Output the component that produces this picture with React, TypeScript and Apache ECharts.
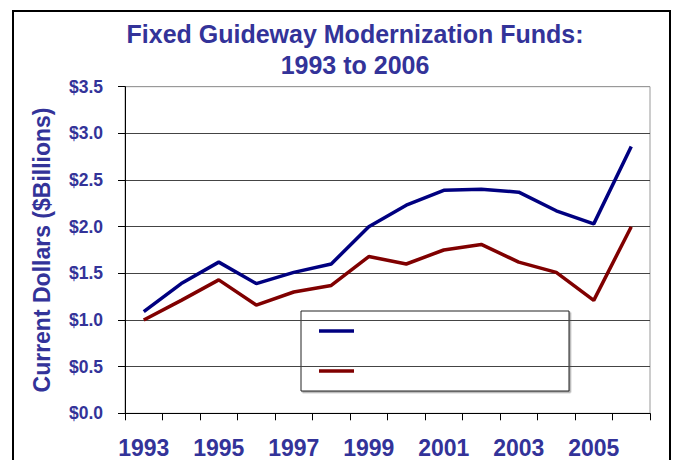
import React, { useEffect, useRef } from "react";
import * as echarts from "echarts";

const years = ["1993","1994","1995","1996","1997","1998","1999","2000","2001","2002","2003","2004","2005","2006"];
const seriesA = [1.09, 1.39, 1.62, 1.39, 1.51, 1.60, 2.00, 2.23, 2.39, 2.40, 2.37, 2.17, 2.03, 2.86];
const seriesB = [1.00, 1.21, 1.43, 1.16, 1.30, 1.37, 1.68, 1.60, 1.75, 1.81, 1.62, 1.51, 1.21, 2.00];
const yTicks = [0, 0.5, 1.0, 1.5, 2.0, 2.5, 3.0, 3.5];

const TEXT = "#333399";
const FONT = "'Liberation Sans', Arial, sans-serif";

export default function App() {
  const ref = useRef<HTMLDivElement>(null);
  useEffect(() => {
    document.body.style.margin = "0";
    const chart = echarts.init(ref.current!, undefined, { renderer: "svg" });
    chart.setOption({
      animation: false,
      backgroundColor: "#ffffff",
      title: {
        text: "Fixed Guideway Modernization Funds:\n1993 to 2006",
        left: 355,
        top: 18,
        padding: 0,
        textAlign: "center",
        textStyle: { color: TEXT, fontSize: 25, fontWeight: "bold", fontFamily: FONT, lineHeight: 31 },
      },
      grid: {
        left: 125, right: 25, top: 86.7, bottom: 46.7,
        show: true, borderColor: "#999", borderWidth: 1, backgroundColor: "transparent",
      },
      xAxis: {
        type: "category",
        data: years,
        boundaryGap: true,
        axisLine: { lineStyle: { color: "#000", width: 1 } },
        axisTick: { show: true, interval: 0, length: 7, lineStyle: { color: "#000" } },
        axisLabel: { interval: 1, color: TEXT, fontSize: 23, fontWeight: "bold", fontFamily: FONT, margin: 23 },
        splitLine: { show: false },
      },
      yAxis: {
        type: "value",
        min: yTicks[0],
        max: yTicks[yTicks.length - 1],
        interval: 0.5,
        name: "Current Dollars ($Billions)",
        nameLocation: "middle",
        nameRotate: 90,
        nameGap: 72,
        nameTextStyle: { color: TEXT, fontSize: 23, fontWeight: "bold", fontFamily: FONT },
        axisLine: { show: true, lineStyle: { color: "#000", width: 1 } },
        axisTick: { show: true, length: 7, lineStyle: { color: "#000" } },
        axisLabel: {
          color: TEXT, fontSize: 17.5, fontWeight: "bold", fontFamily: FONT, margin: 22,
          formatter: (v: number) => "$" + v.toFixed(1),
        },
        splitLine: {
          show: true,
          lineStyle: { color: ["#000", "#444", "#444", "#444", "#444", "#444", "#444", "#999"], width: 1 },
        },
      },
      series: [
        {
          name: "Series A",
          type: "line",
          data: seriesA,
          symbol: "none",
          lineStyle: { color: "#000080", width: 3.5 },
          z: 3,
        },
        {
          name: "Series B",
          type: "line",
          data: seriesB,
          symbol: "none",
          lineStyle: { color: "#800000", width: 3.5 },
          z: 2,
        },
      ],
      graphic: [
        {
          type: "rect",
          z: 100,
          shape: { x: 13, y: 11, width: 657, height: 520 },
          style: { fill: "none", stroke: "#000", lineWidth: 2 },
        },
        {
          type: "group",
          z: 100,
          children: [
            {
              type: "rect",
              shape: { x: 301, y: 311, width: 268, height: 80 },
              style: { fill: "#fff", stroke: "#222", lineWidth: 1, shadowColor: "rgba(0,0,0,0.35)", shadowOffsetX: 1.5, shadowOffsetY: 1.5, shadowBlur: 1 },
            },
            {
              type: "line",
              shape: { x1: 319, y1: 331, x2: 354, y2: 331 },
              style: { stroke: "#000080", lineWidth: 3.5 },
            },
            {
              type: "line",
              shape: { x1: 319, y1: 371, x2: 354, y2: 371 },
              style: { stroke: "#800000", lineWidth: 3.5 },
            },
          ],
        },
      ],
    });
    return () => chart.dispose();
  }, []);
  return <div ref={ref} style={{ position: "fixed", left: 0, top: 0, width: 675, height: 460 }} />;
}
